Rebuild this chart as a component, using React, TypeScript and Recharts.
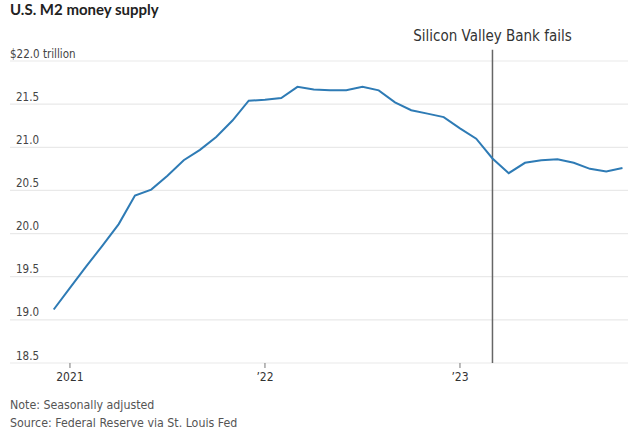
import { CartesianGrid, Line, LineChart, ReferenceLine, XAxis, YAxis } from 'recharts'

// monthly M2, Dec 2020 .. Nov 2023, trillions of dollars
const months = [
  '2020-12', '2021-01', '2021-02', '2021-03', '2021-04', '2021-05', '2021-06', '2021-07', '2021-08',
  '2021-09', '2021-10', '2021-11', '2021-12', '2022-01', '2022-02', '2022-03', '2022-04', '2022-05',
  '2022-06', '2022-07', '2022-08', '2022-09', '2022-10', '2022-11', '2022-12', '2023-01', '2023-02',
  '2023-03', '2023-04', '2023-05', '2023-06', '2023-07', '2023-08', '2023-09', '2023-10', '2023-11',
]
const m2 = [
  19.12, 19.37, 19.62, 19.86, 20.11, 20.44, 20.51, 20.67, 20.85,
  20.97, 21.12, 21.31, 21.54, 21.55, 21.57, 21.7, 21.67, 21.66,
  21.66, 21.7, 21.66, 21.52, 21.43, 21.39, 21.35, 21.22, 21.1,
  20.87, 20.7, 20.82, 20.85, 20.86, 20.82, 20.75, 20.72, 20.76,
]
const yTicks = [18.5, 19, 19.5, 20, 20.5, 21, 21.5, 22]
const xTickMonths = ['2021-01', '2022-01', '2023-01']
const xTickLabels = ['2021', '\u201922', '\u201923']
const svbMonth = '2023-03'

// months since Jan 2021
const toT = (m: string) => {
  const [y, mo] = m.split('-').map(Number)
  return (y - 2021) * 12 + (mo - 1)
}

const data = months.map((m, i) => ({ t: toT(m), v: m2[i] }))
const xTicks = xTickMonths.map(toT)

const FONT = "'Liberation Sans Narrow', 'DejaVu Sans Condensed', sans-serif"

function YTick(props: any) {
  const { y, payload } = props
  const v = payload.value as number
  const isTop = v === 22
  return (
    <text x={isTop ? 10 : 16} y={y - 3.5} fontSize={11.5} fontFamily={FONT} fill="#444">
      {isTop ? '$22.0 trillion' : v.toFixed(1)}
    </text>
  )
}

function XTick(props: any) {
  const { x, y, payload } = props
  const idx = xTicks.indexOf(payload.value)
  return (
    <text x={x} y={y + 11} textAnchor="middle" fontSize={12} fontFamily={FONT} fill="#333">
      {xTickLabels[idx]}
    </text>
  )
}

export default function App() {
  return (
    <div style={{ position: 'absolute', left: 0, top: 0, width: 638, height: 432, background: '#fff' }}>
      <div
        style={{
          position: 'absolute', left: 10, top: 0, fontFamily: 'Lato, sans-serif', fontWeight: 700,
          fontSize: 15, color: '#222',
        }}
      >
        U.S. M2 money supply
      </div>
      <LineChart width={638} height={432} data={data} margin={{ top: 61, right: 10, bottom: 49, left: 0 }}>
        <CartesianGrid horizontal vertical={false} stroke="#e9e9e9" strokeWidth={1.2} />
        <XAxis
          dataKey="t"
          type="number"
          domain={[-3.69, 34.34]}
          ticks={xTicks}
          allowDataOverflow
          axisLine={false}
          tickLine={{ stroke: '#777' }}
          tickSize={5}
          height={20}
          tick={<XTick />}
        />
        <YAxis
          domain={[18.5, 22]}
          ticks={yTicks}
          width={10}
          axisLine={false}
          tickLine={false}
          tick={<YTick />}
        />
        <ReferenceLine
          segment={[{ x: toT(svbMonth), y: 22.13 }, { x: toT(svbMonth), y: 18.5 }]}
          ifOverflow="visible"
          stroke="#666"
          strokeWidth={1.5}
          label={{
            value: 'Silicon Valley Bank fails',
            position: 'top',
            offset: 9,
            style: { fontSize: 15, fontFamily: FONT, fill: '#333' },
          }}
        />
        <Line
          dataKey="v"
          stroke="#2e7bb5"
          strokeWidth={2}
          dot={false}
          isAnimationActive={false}
        />
      </LineChart>
      <div
        style={{
          position: 'absolute', left: 10, top: 396, fontFamily: FONT, fontSize: 12.3, color: '#555',
          lineHeight: '18px',
        }}
      >
        <div>Note: Seasonally adjusted</div>
        <div>Source: Federal Reserve via St. Louis Fed</div>
      </div>
    </div>
  )
}
